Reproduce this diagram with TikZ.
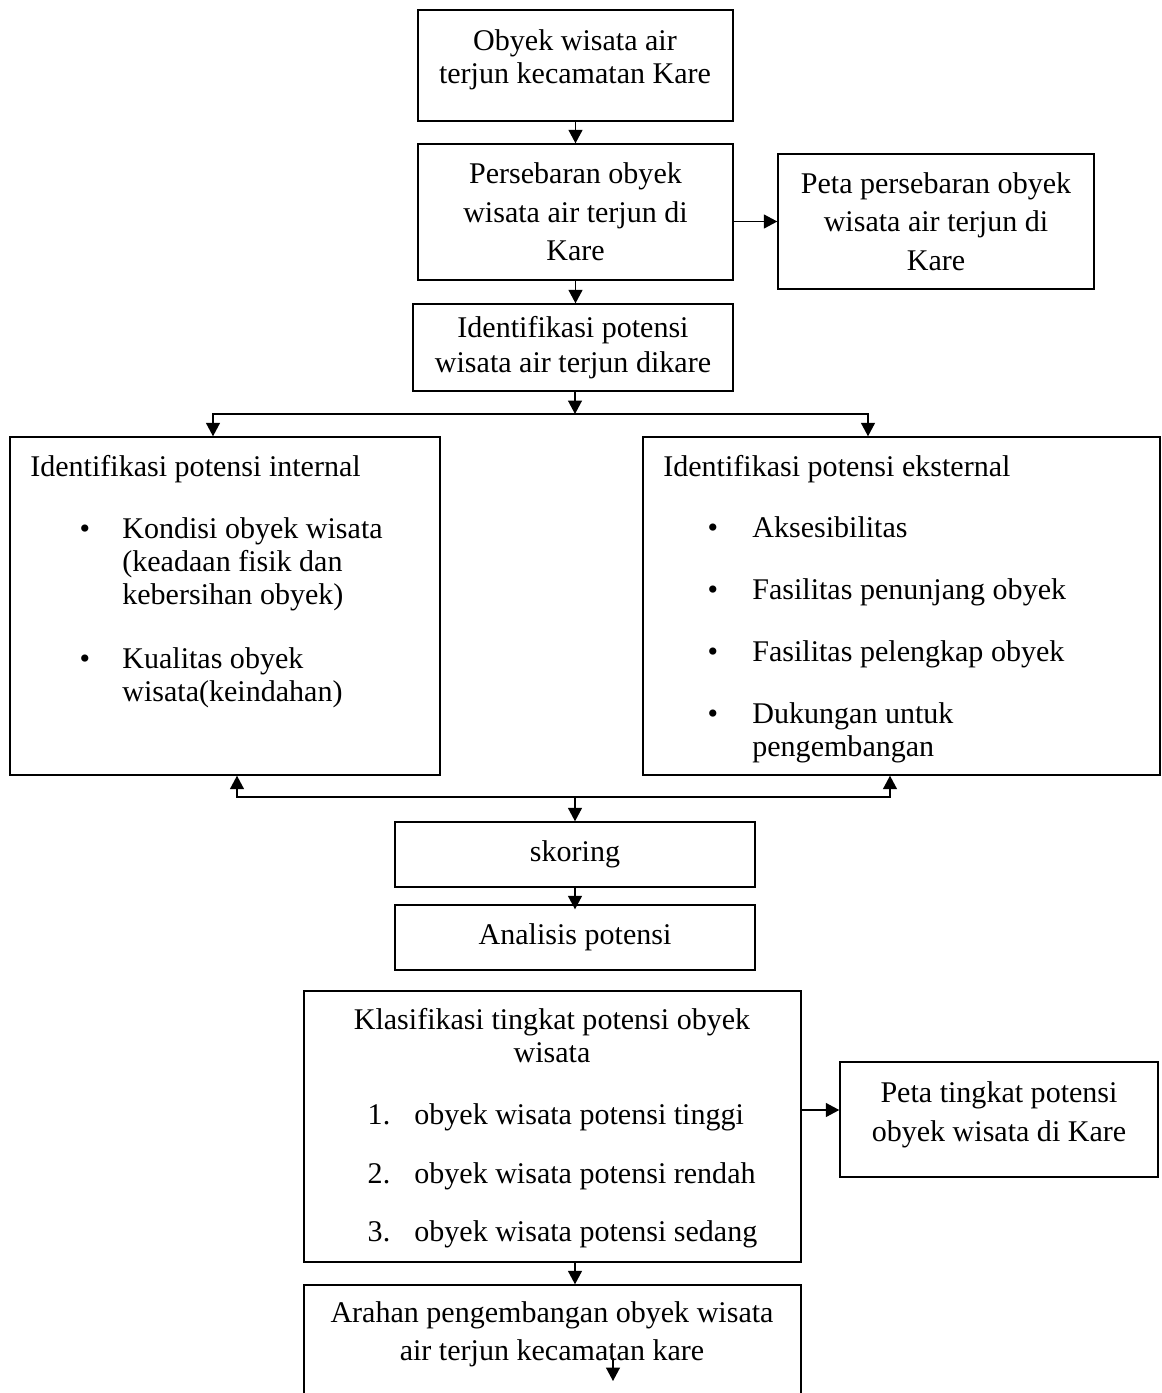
\documentclass[tikz,border=0pt]{standalone}
\usepackage{fontspec}
\setmainfont{Liberation Serif}
\usepackage{tikz}
\usetikzlibrary{arrows.meta, positioning, calc}
\tikzset{
  box/.style={
    rectangle, draw, line width=0.8pt,
    align=center, inner sep=0pt,
    font=\fontsize{17.1}{19.5}\selectfont,
  },
  tallbox/.style={box, font=\fontsize{17.1}{22}\selectfont},
  sz/.style 2 args={minimum width=#1*0.02cm, minimum height=#2*0.02cm},
  txt/.style={anchor=base west, inner sep=0pt, font=\fontsize{17.1}{20}\selectfont},
  ctxt/.style={anchor=base, inner sep=0pt, font=\fontsize{17.1}{20}\selectfont},
  arrow/.style={-{Triangle[length=0.27cm, width=0.28cm]}, line width=0.8pt},
}
\begin{document}
\begin{tikzpicture}[x=0.02cm, y=-0.02cm]

  \useasboundingbox (0,0) rectangle (1161,1393);

  \node[box, sz={315}{111}] (obyek) at (575.5,65.5) {};
  \node[tallbox, sz={315}{136}] (sebaran) at (575.5,212) {Persebaran obyek\\wisata air terjun di\\Kare};
  \node[tallbox, sz={316}{135}] (petasebar) at (936,221.5) {Peta persebaran obyek\\wisata air terjun di\\Kare};
  \node[box, sz={320}{87}] (identif) at (573,347.5) {Identifikasi potensi\\wisata air terjun dikare};
  \node[box, sz={430}{338}] (internal) at (225,606) {};
  \node[box, sz={517}{338}] (eksternal) at (901.5,606) {};
  \node[box, sz={360}{65}] (skoring) at (575,854.5) {skoring};
  \node[box, sz={360}{65}] (analisis) at (575,937.5) {Analisis potensi};
  \node[box, sz={497}{271}] (klasifikasi) at (552.5,1126.5) {};
  \node[box, sz={318}{115}] (petatingkat) at (999,1119.5) {};
  \node[box, sz={497}{150}] (arahan) at (552.5,1360) {};

  % obyek
  \node[ctxt] (obyek1) at (575,50) {Obyek wisata air};
  \node[ctxt] (obyek2) at (575,83) {terjun kecamatan Kare};

  % peta tingkat
  \node[ctxt] (petatingkat1) at (999,1102) {Peta tingkat potensi};
  \node[ctxt] (petatingkat2) at (999,1141) {obyek wisata di Kare};

  % internal
  \node[txt] (inthead) at (30,476) {Identifikasi potensi internal};
  \node[txt] (int1a) at (122,538) {Kondisi obyek wisata};
  \node[txt] (int1b) at (122,571) {(keadaan fisik dan};
  \node[txt] (int1c) at (122,604) {kebersihan obyek)};
  \node[txt] (int2a) at (122,668) {Kualitas obyek};
  \node[txt] (int2b) at (122,701) {wisata(keindahan)};
  \foreach \y/\n in {538/1, 668/2}
    \node[ctxt] (intdot\n) at (85,\y) {\textbullet};

  % eksternal
  \node[txt] (ekshead) at (663,476) {Identifikasi potensi eksternal};
  \node[txt] (eks1) at (752,537) {Aksesibilitas};
  \node[txt] (eks2) at (752,599) {Fasilitas penunjang obyek};
  \node[txt] (eks3) at (752,661) {Fasilitas pelengkap obyek};
  \node[txt] (eks4a) at (752,723) {Dukungan untuk};
  \node[txt] (eks4b) at (752,756) {pengembangan};
  \foreach \y/\n in {537/1, 599/2, 661/3, 723/4}
    \node[ctxt] (eksdot\n) at (713,\y) {\textbullet};

  % klasifikasi
  \node[ctxt] (klashead1) at (552,1029) {Klasifikasi tingkat potensi obyek};
  \node[ctxt] (klashead2) at (552,1062) {wisata};
  \node[txt] (klas1) at (414,1124) {obyek wisata potensi tinggi};
  \node[txt] (klas2) at (414,1183) {obyek wisata potensi rendah};
  \node[txt] (klas3) at (414,1241) {obyek wisata potensi sedang};
  \foreach \y/\n in {1124/1, 1183/2, 1241/3}
    \node[ctxt] (klasnum\n) at (379,\y) {\n.};

  % arahan
  \node[ctxt] (arahan1) at (552,1322) {Arahan pengembangan obyek wisata};
  \node[ctxt] (arahan2) at (552,1360) {air terjun kecamatan kare};

  \coordinate (split) at (575,414);
  \coordinate (join) at (575,797);
  \coordinate (stray1) at (613,1358);
  \coordinate (stray2) at (613,1381);

  \draw[arrow] (obyek) -- (sebaran);
  \draw[arrow] (sebaran.east |- petasebar.west) -- (petasebar.west);
  \draw[arrow] (sebaran.south) -- (sebaran.south |- identif.north);
  \draw[arrow] (identif.south -| split) -- (split);
  \draw[arrow] (split) -| ([xshift=-0.24cm]internal.north);
  \draw[arrow] (split) -| ([xshift=-0.67cm]eksternal.north);
  \draw[arrow] (join) -| ([xshift=0.24cm]internal.south);
  \draw[arrow] (join) -| ([xshift=-0.23cm]eksternal.south);
  \draw[arrow] (join) -- (skoring.north);
  \draw[arrow, shorten >=-0.1cm] (skoring) -- (analisis);
  \draw[arrow] ([yshift=0.19cm]klasifikasi.east |- petatingkat.west) -- ([yshift=0.19cm]petatingkat.west);
  \draw[arrow] (klasifikasi.south -| analisis) -- (arahan.north -| analisis);
  \draw[arrow] (stray1) -- (stray2);

\end{tikzpicture}
\end{document}
